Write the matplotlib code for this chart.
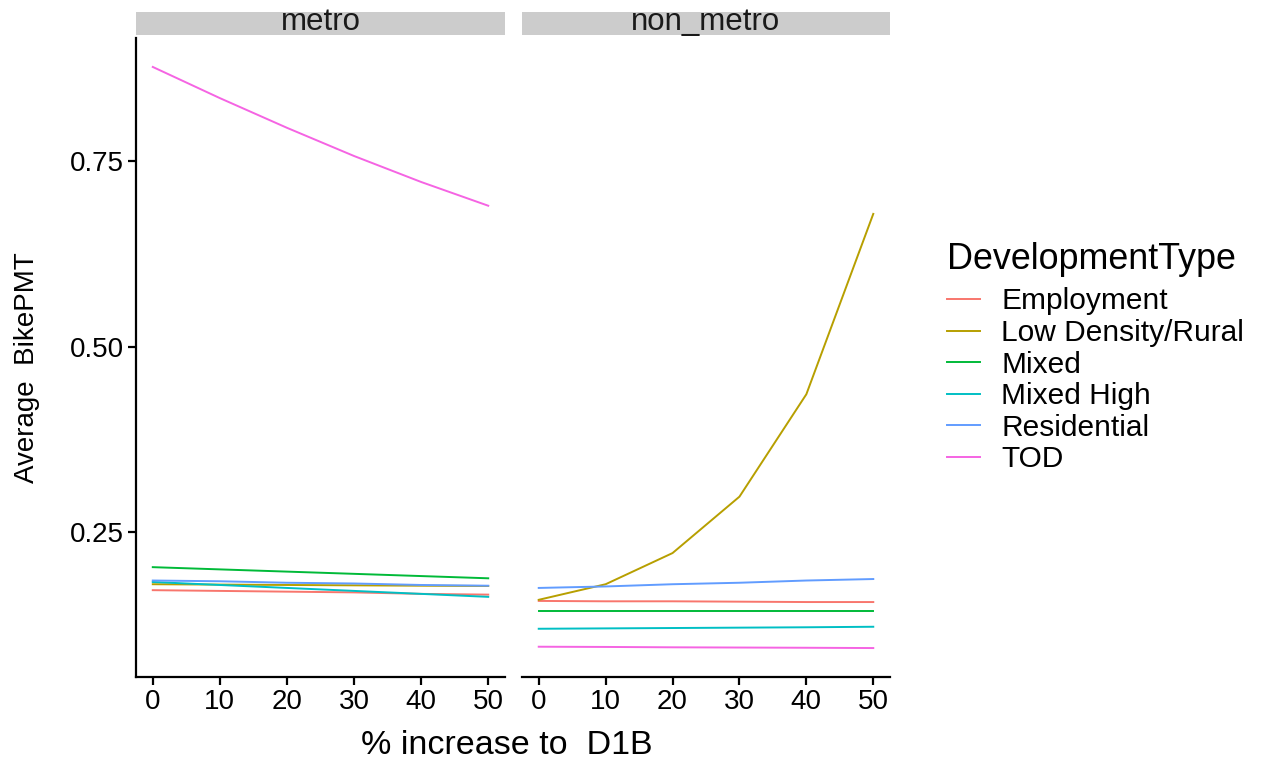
import matplotlib
matplotlib.use("Agg")
import matplotlib.pyplot as plt
from matplotlib.patches import Rectangle

plt.rcParams['font.family'] = ['Liberation Sans', 'DejaVu Sans']

# Scenario steps: % increase to D1B
pct_increase = [0, 10, 20, 30, 40, 50]

dev_types = ["Employment", "Low Density/Rural", "Mixed", "Mixed High", "Residential", "TOD"]
colors = ["#F8766D", "#B79F00", "#00BA38", "#00BFC4", "#619CFF", "#F564E3"]

# Average BikePMT, metro areas
metro_employment = [0.172, 0.171, 0.170, 0.169, 0.167, 0.166]
metro_lowdensity = [0.180, 0.1795, 0.179, 0.1785, 0.178, 0.1776]
metro_mixed = [0.203, 0.200, 0.197, 0.194, 0.191, 0.188]
metro_mixedhigh = [0.183, 0.179, 0.175, 0.171, 0.167, 0.163]
metro_residential = [0.185, 0.184, 0.182, 0.181, 0.179, 0.178]
metro_tod = [0.877, 0.835, 0.795, 0.757, 0.722, 0.690]

# Average BikePMT, non-metro areas
nonmetro_employment = [0.1575, 0.157, 0.157, 0.1565, 0.156, 0.156]
nonmetro_lowdensity = [0.159, 0.180, 0.222, 0.298, 0.436, 0.679]
nonmetro_mixed = [0.144, 0.144, 0.144, 0.144, 0.144, 0.144]
nonmetro_mixedhigh = [0.120, 0.1205, 0.121, 0.1215, 0.122, 0.1227]
nonmetro_residential = [0.175, 0.177, 0.180, 0.182, 0.185, 0.187]
nonmetro_tod = [0.0958, 0.0955, 0.095, 0.0947, 0.0944, 0.094]

panels = [
    ("metro", [metro_employment, metro_lowdensity, metro_mixed,
               metro_mixedhigh, metro_residential, metro_tod]),
    ("non_metro", [nonmetro_employment, nonmetro_lowdensity, nonmetro_mixed,
                   nonmetro_mixedhigh, nonmetro_residential, nonmetro_tod]),
]

W, H = 1272, 762
fig = plt.figure(figsize=(W / 100, H / 100), dpi=100)

def fx(px):
    return px / W

def fy(py):
    return 1 - py / H

panel_x = [(136, 505), (522, 890)]
top_px, bottom_px = 38, 677

ymin, ymax = 0.055, 0.916
axes = []
for i, ((name, series), (x0, x1)) in enumerate(zip(panels, panel_x)):
    ax = fig.add_axes([fx(x0), fy(bottom_px), fx(x1 - x0), fy(top_px) - fy(bottom_px)])
    for vals, c, lab in zip(series, colors, dev_types):
        ax.plot(pct_increase, vals, color=c, lw=1.4, label=lab)
    ax.set_xlim(-2.5, 52.5)
    ax.set_ylim(ymin, ymax)
    ax.set_xticks(pct_increase)
    ax.set_yticks([0.25, 0.50, 0.75])
    ax.set_yticklabels(["0.25", "0.50", "0.75"])
    for s in ["top", "right"]:
        ax.spines[s].set_visible(False)
    ax.spines["bottom"].set_linewidth(1.6)
    ax.spines["left"].set_linewidth(1.6)
    ax.tick_params(axis="both", length=5.5, width=1.6, color="black",
                   labelsize=20, labelcolor="black", pad=3)
    if i > 0:
        ax.spines["left"].set_visible(False)
        ax.tick_params(axis="y", left=False, labelleft=False)
    # facet strip
    strip = Rectangle((fx(x0), fy(35)), fx(x1 - x0), fy(12) - fy(35),
                      transform=fig.transFigure, facecolor="#cccccc",
                      edgecolor="none")
    fig.patches.append(strip)
    fig.text(fx((x0 + x1) / 2), fy(22), name, ha="center", va="center",
             fontsize=22.5, color="#1a1a1a")
    axes.append(ax)

fig.text(fx(507), fy(745), "% increase to  D1B", ha="center", va="center",
         fontsize=24.5, color="black")
fig.text(fx(27), fy(368), "Average  BikePMT", ha="center", va="center",
         rotation=90, fontsize=20, color="black")

handles, labels = axes[0].get_legend_handles_labels()
leg = fig.legend(handles, labels, loc="upper left",
                 bbox_to_anchor=(fx(935), fy(230)),
                 frameon=False, title="DevelopmentType",
                 title_fontsize=25.8, fontsize=21.5,
                 handlelength=1.1, handletextpad=0.72,
                 labelspacing=0.12, alignment="left", borderaxespad=0)
# extra room between the legend title and its entries
leg._legend_box.sep += 5

fig.savefig("out.png", dpi=100, facecolor="white")
